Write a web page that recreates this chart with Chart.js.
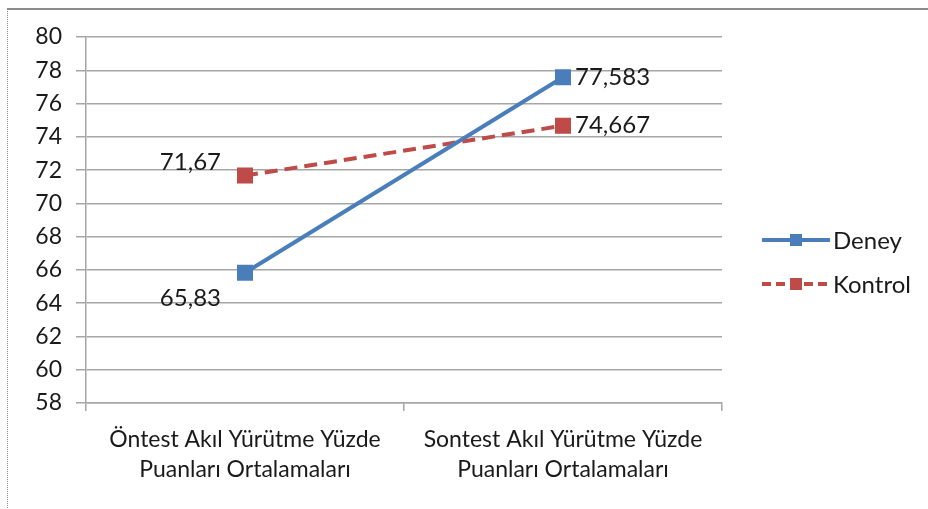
<!DOCTYPE html>
<html>
<head>
<meta charset="utf-8">
<script src="https://cdn.jsdelivr.net/npm/chart.js@4/dist/chart.umd.min.js"></script>
<style>
  html, body { margin: 0; padding: 0; background: #fff; }
  #wrap { position: relative; width: 928px; height: 509px; }
  #frame { position: absolute; left: 7px; top: 8px; width: 940px; height: 520px;
           border-top: 2px solid #8c8c8c; border-left: 1px dotted #8c8c8c; box-sizing: border-box; }
  canvas { position: absolute; left: 0; top: 0; }
</style>
</head>
<body>
<div id="wrap">
  <div id="frame"></div>
  <canvas id="grafik" width="928" height="509"></canvas>
</div>
<script>
// Akıl yürütme yüzde puanları - ön test / son test ortalamaları
const kategoriler = [
  ['Öntest Akıl Yürütme Yüzde', 'Puanları Ortalamaları'],
  ['Sontest Akıl Yürütme Yüzde', 'Puanları Ortalamaları']
];
const deneyDegerleri = [65.83, 77.583];
const kontrolDegerleri = [71.67, 74.667];
const deneyEtiketleri = ['65,83', '77,583'];
const kontrolEtiketleri = ['71,67', '74,667'];
const yMin = 58, yMax = 80, yAdim = 2;

const yaziTipi = 'Lato, "Open Sans", sans-serif';
const mavi = '#4a7ebb';
const kirmizi = '#be4b48';
const yaziRengi = '#1a1a1a';

// Nokta etiketleri ve sağdaki gösterge
const etiketEklentisi = {
  id: 'etiketler',
  afterDatasetsDraw(chart) {
    const ctx = chart.ctx;
    ctx.save();
    ctx.font = '24px ' + yaziTipi;
    ctx.fillStyle = yaziRengi;
    ctx.textBaseline = 'middle';
    const yer = [
      { ds: 0, etiket: deneyEtiketleri, ayar: [[-24, 26, 'right'], [12, 0, 'left']] },
      { ds: 1, etiket: kontrolEtiketleri, ayar: [[-24, -13, 'right'], [12, 0, 'left']] }
    ];
    yer.forEach(s => {
      chart.getDatasetMeta(s.ds).data.forEach((p, i) => {
        const a = s.ayar[i];
        ctx.textAlign = a[2];
        ctx.fillText(s.etiket[i], p.x + a[0], p.y + a[1]);
      });
    });

    // gösterge
    ctx.textAlign = 'left';
    chart.data.datasets.forEach((d, i) => {
      const y = 240 + i * 44;
      const x0 = 762, x1 = 830;
      ctx.strokeStyle = d.borderColor;
      ctx.lineWidth = 4;
      ctx.setLineDash(d.borderDash ? [9, 5] : []);
      ctx.beginPath();
      ctx.moveTo(x0, y);
      ctx.lineTo(x1, y);
      ctx.stroke();
      ctx.setLineDash([]);
      ctx.fillStyle = d.pointBackgroundColor;
      ctx.fillRect(790, y - 6, 12, 12);
      ctx.fillStyle = yaziRengi;
      ctx.fillText(d.label, 833, y + 1);
    });
    ctx.restore();
  }
};

new Chart(document.getElementById('grafik'), {
  type: 'line',
  data: {
    labels: kategoriler,
    datasets: [
      {
        label: 'Deney',
        data: deneyDegerleri,
        borderColor: mavi,
        backgroundColor: mavi,
        pointBackgroundColor: mavi,
        pointBorderColor: mavi,
        borderWidth: 4,
        pointStyle: 'rect',
        pointRadius: 8.5,
        tension: 0
      },
      {
        label: 'Kontrol',
        data: kontrolDegerleri,
        borderColor: kirmizi,
        backgroundColor: kirmizi,
        pointBackgroundColor: kirmizi,
        pointBorderColor: kirmizi,
        borderWidth: 4,
        borderDash: [13, 7],
        pointStyle: 'rect',
        pointRadius: 8.5,
        tension: 0
      }
    ]
  },
  options: {
    responsive: false,
    animation: false,
    layout: { padding: { left: 0, top: 37, right: 206, bottom: 20 } },
    plugins: {
      legend: { display: false },
      tooltip: { enabled: false }
    },
    scales: {
      x: {
        offset: true,
        grid: { offset: true, drawOnChartArea: false, drawTicks: true, tickLength: 8, color: '#a6a6a6', lineWidth: 1.5 },
        border: { color: '#a6a6a6', width: 1.5 },
        ticks: { color: yaziRengi, font: { family: yaziTipi, size: 23, lineHeight: 1.3 }, padding: 14, maxRotation: 0 },
        afterFit(s) { s.height = 86; }
      },
      y: {
        min: yMin,
        max: yMax,
        ticks: { stepSize: yAdim, color: yaziRengi, font: { family: yaziTipi, size: 23 }, padding: 14 },
        grid: { color: '#a6a6a6', lineWidth: 1.5, tickLength: 10 },
        border: { color: '#a6a6a6', width: 1.5 },
        afterFit(s) { s.width = 86; }
      }
    }
  },
  plugins: [etiketEklentisi]
});
</script>
</body>
</html>
